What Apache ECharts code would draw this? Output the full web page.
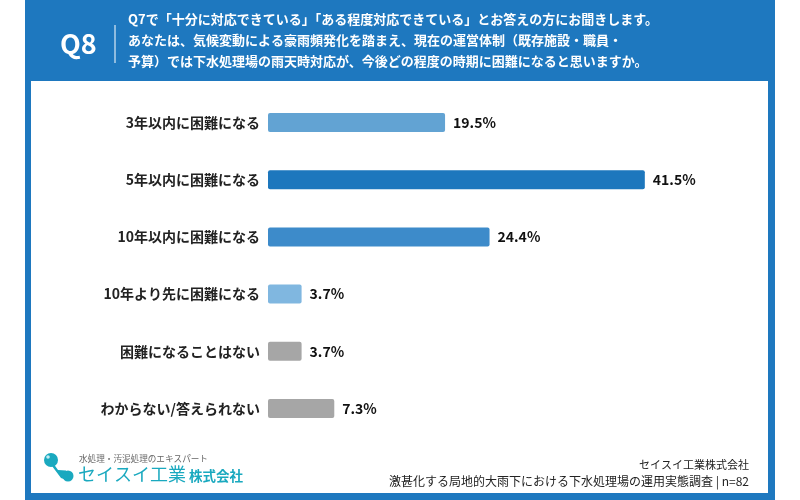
<!DOCTYPE html>
<html><head><meta charset="utf-8">
<script src="https://cdn.jsdelivr.net/npm/echarts@6/dist/echarts.min.js"></script>
<style>html,body{margin:0;padding:0;background:#fff}#c{width:800px;height:500px}</style>
</head><body><div id="c"></div>
<script>
const categories = ["3年以内に困難になる","5年以内に困難になる","10年以内に困難になる","10年より先に困難になる","困難になることはない","わからない/答えられない"];
const values = [19.5, 41.5, 24.4, 3.7, 3.7, 7.3];
const questionLines = [
  "Q7で「十分に対応できている」「ある程度対応できている」とお答えの方にお聞きします。",
  "あなたは、気候変動による豪雨頻発化を踏まえ、現在の運営体制（既存施設・職員・",
  "予算）では下水処理場の雨天時対応が、今後どの程度の時期に困難になると思いますか。"
];
const questionNo = "Q8";
const sourceLines = ["セイスイ工業株式会社","激甚化する局地的大雨下における下水処理場の運用実態調査 | n=82"];

const barColors = ["#62A3D3","#1D77BD","#3D8BCA","#80B7E0","#A6A6A6","#A6A6A6"];
const sourceSizes = [11, 12];
const FONT = '"Noto Sans CJK JP", "Noto Sans", sans-serif';
const BLUE = "#1E78BF";
const TEAL = "#1AA9BF";

const chart = echarts.init(document.getElementById('c'), null, {renderer:'canvas'});
const graphics = [
  {type:'rect', shape:{x:25,y:0,width:750,height:500}, style:{fill:BLUE}, z:-10, silent:true},
  {type:'rect', shape:{x:31,y:81,width:737,height:412}, style:{fill:'#fff'}, z:-9, silent:true},
  {type:'text', left:60, top:30, style:{text:questionNo, fill:'#fff', font:'bold 27px '+FONT}},
  {type:'line', shape:{x1:115,y1:25,x2:115,y2:63}, style:{stroke:'#fff', lineWidth:1}},
  // logo
  {type:'circle', shape:{cx:51,cy:460,r:7}, style:{fill:TEAL}},
  {type:'circle', shape:{cx:68,cy:476,r:5.5}, style:{fill:TEAL}},
  {type:'polygon', shape:{points:[[53,463],[58,470],[66,470.5],[69,481],[61,478],[52,466]]}, style:{fill:TEAL}},
  {type:'circle', shape:{cx:48,cy:457,r:1.8}, style:{fill:'#c4ecf2'}},
  {type:'text', left:79, top:454, style:{text:'水処理・汚泥処理のエキスパート', fill:'#666', font:'8.6px '+FONT}},
  {type:'text', left:78, top:465, style:{text:'セイスイ工業', fill:TEAL, font:'18px '+FONT}},
  {type:'text', left:189, top:469, style:{text:'株式会社', fill:TEAL, font:'bold 13.5px '+FONT}}
];
questionLines.forEach((t,i)=>graphics.push({type:'text', left:128, top:13+i*21, style:{text:t, fill:'#fff', font:'bold 13px '+FONT}}));
sourceLines.forEach((t,i)=>graphics.push({type:'text', right:51, top:459+i*16, style:{text:t, fill:'#222', font:sourceSizes[i]+'px '+FONT, textAlign:'right'}}));

chart.setOption({
  animation:false,
  backgroundColor:'#fff',
  graphic: graphics,
  grid:{left:268, right:78, top:94, bottom:63, containLabel:false},
  xAxis:{type:'value', min:0, max:50, show:false},
  yAxis:{type:'category', data:categories, inverse:true,
    axisLine:{show:false}, axisTick:{show:false},
    axisLabel:{color:'#222', fontWeight:'bold', fontSize:14, fontFamily:FONT, margin:8}},
  series:[{type:'bar', barWidth:19,
    data: values.map((v,i)=>({value:v, itemStyle:{color:barColors[i]}})),
    itemStyle:{borderRadius:2},
    label:{show:true, position:'right', distance:8, formatter:p=>p.value.toFixed(1)+'%',
      color:'#111', fontWeight:'bold', fontSize:14, fontFamily:FONT}
  }]
});
</script></body></html>
